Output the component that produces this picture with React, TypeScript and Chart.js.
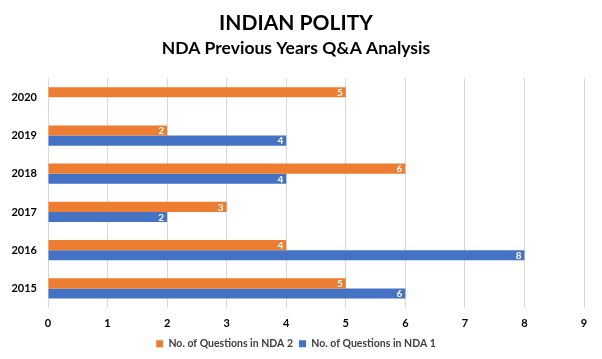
import React, { useEffect, useRef } from "react";
import { Chart, registerables } from "chart.js";

Chart.register(...registerables);

const years = ["2020", "2019", "2018", "2017", "2016", "2015"];
const nda2 = [5, 2, 6, 3, 4, 5];
const nda1 = [null, 4, 4, 2, 8, 6];
const xTicks = [0, 1, 2, 3, 4, 5, 6, 7, 8, 9];
const titleText = "INDIAN POLITY";
const subtitleText = "NDA Previous Years Q&A Analysis";
const seriesNames = ["No. of Questions in NDA 2", "No. of Questions in NDA 1"];

const FONT = "Lato, 'Open Sans', sans-serif";

const labelPlugin = {
  id: "barLabels",
  afterDatasetsDraw(chart: any) {
    const ctx = chart.ctx;
    ctx.save();
    ctx.font = `bold 10px ${FONT}`;
    ctx.fillStyle = "#ffffff";
    ctx.textAlign = "right";
    ctx.textBaseline = "middle";
    chart.data.datasets.forEach((ds: any, di: number) => {
      const meta = chart.getDatasetMeta(di);
      meta.data.forEach((el: any, i: number) => {
        const v = ds.data[i];
        if (v === null || v === undefined) return;
        ctx.fillText(String(v), el.x - 3, el.y + 0.5);
      });
    });
    ctx.restore();
  },
};

export default function App() {
  const ref = useRef<HTMLCanvasElement>(null);
  useEffect(() => {
    if (!ref.current) return;
    const chart = new Chart(ref.current, {
      type: "bar",
      data: {
        labels: years,
        datasets: [
          { label: seriesNames[0], data: nda2, backgroundColor: "#ED7D31", barPercentage: 1, categoryPercentage: 0.53 },
          { label: seriesNames[1], data: nda1 as any, backgroundColor: "#4472C4", barPercentage: 1, categoryPercentage: 0.53 },
        ],
      },
      plugins: [labelPlugin],
      options: {
        indexAxis: "y",
        animation: false,
        responsive: false,
        maintainAspectRatio: false,
        layout: { padding: { left: 8, right: 18, top: 6, bottom: 0 } },
        plugins: {
          title: {
            display: true,
            text: titleText,
            color: "#000000",
            font: { family: FONT, size: 21, weight: "bold" },
            padding: { top: 5, bottom: 2 },
          },
          subtitle: {
            display: true,
            text: subtitleText,
            color: "#000000",
            font: { family: FONT, size: 17.5, weight: "bold" },
            padding: { top: 0, bottom: 19 },
          },
          legend: {
            position: "bottom",
            labels: {
              boxWidth: 7,
              boxHeight: 7,
              color: "#404040",
              font: { family: FONT, size: 10.5, weight: "bold" },
              padding: 6,
            },
          },
          tooltip: { enabled: false },
        },
        scales: {
          x: {
            min: 0,
            max: 9,
            afterBuildTicks: (s: any) => {
              s.ticks = xTicks.map((v) => ({ value: v }));
            },
            afterFit: (s: any) => {
              s.height = 25;
            },
            grid: { color: "#d9d9d9", drawTicks: false },
            border: { display: false },
            ticks: { color: "#000000", padding: 9, font: { family: FONT, size: 11, weight: "bold" } },
          },
          y: {
            grid: { display: false, drawTicks: false },
            border: { display: false },
            afterFit: (s: any) => {
              s.width = 40;
            },
            ticks: { color: "#000000", padding: 11, font: { family: FONT, size: 11, weight: "bold" } },
          },
        },
      },
    });
    return () => chart.destroy();
  }, []);
  return (
    <div style={{ position: "absolute", left: 0, top: 0, width: 602, height: 359, background: "#fff" }}>
      <canvas ref={ref} width={602} height={359} style={{ display: "block" }} />
    </div>
  );
}
